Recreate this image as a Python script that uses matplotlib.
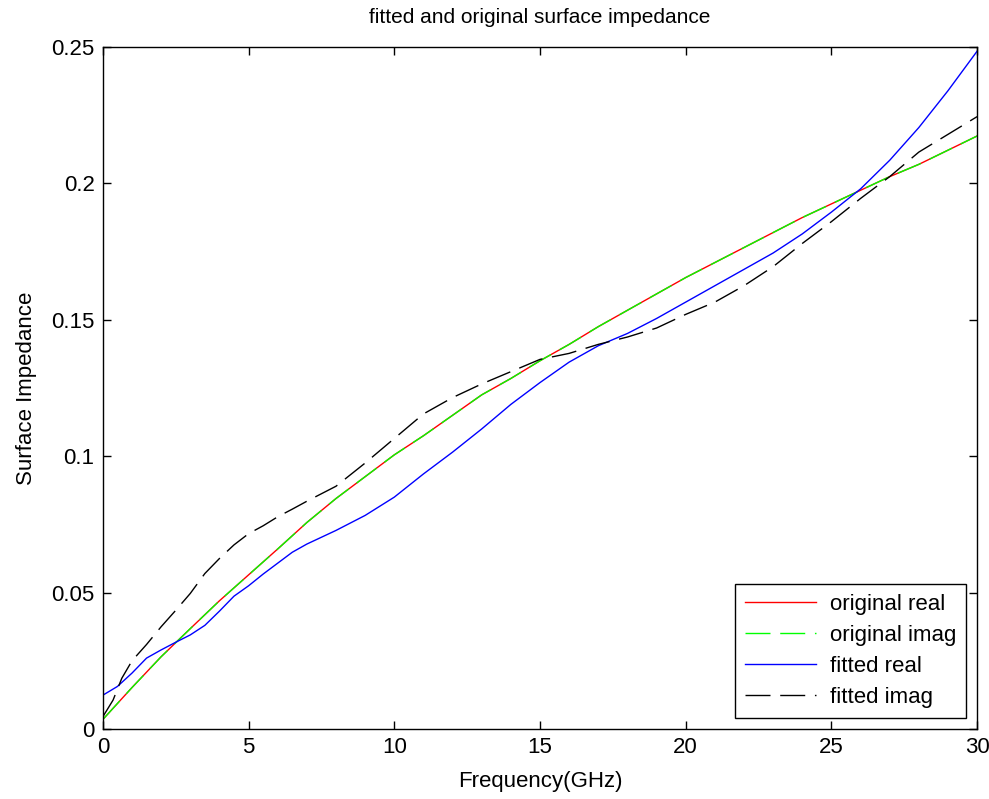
import numpy as np
import matplotlib
matplotlib.use('Agg')
import matplotlib.pyplot as plt
import matplotlib.ticker as tck

plt.rcParams['font.family'] = ['Liberation Sans', 'DejaVu Sans']

## ---------------------- datos ---------------------- ##

f_orig = [0, 1, 2, 3, 4, 5, 6, 7, 8, 9, 10, 11, 12, 13, 14, 15,
          16, 17, 18, 19, 20, 21, 22, 23, 24, 25, 26, 27, 28, 29, 30]
z_orig = [0.0035, 0.0152, 0.0265, 0.0368, 0.047, 0.0565, 0.066, 0.0757,
          0.0845, 0.0925, 0.1005, 0.1075, 0.115, 0.1225, 0.1285, 0.135,
          0.141, 0.1475, 0.1535, 0.1595, 0.1655, 0.171, 0.1765, 0.182,
          0.1875, 0.1925, 0.1975, 0.2025, 0.207, 0.2122, 0.2174]

f_fit_re = [0, 0.5, 1, 1.5, 2, 2.5, 3, 3.5, 4, 4.5, 5, 5.5, 6, 6.5, 7, 8, 9, 10,
            11, 12, 13, 14, 15, 16, 17, 18, 19, 20, 21, 22, 23, 24, 25,
            26, 27, 28, 29, 30]
z_fit_re = [0.0124, 0.0156, 0.0205, 0.026, 0.029, 0.0318, 0.0345, 0.038,
            0.0432, 0.0487, 0.0525, 0.0568, 0.0608, 0.0648, 0.0678, 0.0728, 0.0783,
            0.085, 0.0935, 0.1015, 0.110, 0.119, 0.127, 0.1345, 0.1405,
            0.145, 0.1505, 0.1565, 0.1625, 0.1685, 0.1745, 0.1815, 0.1895,
            0.198, 0.2085, 0.2205, 0.234, 0.2485]

f_fit_im = [0, 0.35, 0.65, 1, 1.5, 2, 2.5, 3, 3.5, 4, 4.5, 5, 5.5, 6, 6.5,
            7, 8, 9, 10, 11, 12, 13, 14, 15, 16, 17, 18, 19, 20, 21, 22,
            23, 24, 25, 26, 27, 28, 29, 30]
z_fit_im = [0.0045, 0.0106, 0.0186, 0.025, 0.031, 0.0375, 0.0435, 0.0497,
            0.057, 0.0625, 0.0675, 0.0716, 0.0745, 0.0778, 0.0806, 0.0835,
            0.089, 0.0975, 0.1065, 0.1155, 0.1215, 0.1265, 0.131, 0.1355,
            0.1377, 0.141, 0.1437, 0.147, 0.152, 0.1565, 0.1625, 0.1695,
            0.178, 0.186, 0.1945, 0.2025, 0.2115, 0.218, 0.2245]

## ---------------------------- grafica ---------------------------------- ##

fig = plt.figure(figsize=[9.89, 7.99], dpi=100)
ax = fig.add_axes([0.104, 0.0876, 0.884, 0.8535])

ax.plot(f_orig, z_orig, color='#ff0000', lw=1.0, label='original real')
ax.plot(f_orig, z_orig, color='#00ff00', lw=1.0, dashes=(18, 7), label='original imag')
ax.plot(f_fit_re, z_fit_re, color='#0000ff', lw=1.0, label='fitted real')
ax.plot(f_fit_im, z_fit_im, color='k', lw=1.0, dashes=(18, 7), label='fitted imag')

ax.set_xlim(0, 30)
ax.set_ylim(0, 0.25)
ax.xaxis.set_major_locator(tck.MultipleLocator(5))
ax.yaxis.set_major_locator(tck.MultipleLocator(0.05))
ax.yaxis.set_major_formatter(tck.FuncFormatter(lambda v, p: '%g' % round(v, 3)))
ax.tick_params(direction='in', length=6, width=1, top=True, right=True,
               labelsize=16, pad=6)
for s in ax.spines.values():
    s.set_linewidth(1.0)

ax.set_title('fitted and original surface impedance', fontsize=15, pad=17)
ax.set_xlabel('Frequency(GHz)', fontsize=16, labelpad=9)
ax.set_ylabel('Surface Impedance', fontsize=16, labelpad=10)

leg = ax.legend(loc='lower right', fontsize=16, handlelength=3.2,
                handletextpad=0.6, fancybox=False, framealpha=1, edgecolor='k',
                borderaxespad=0.5, labelspacing=0.45, borderpad=0.45)
leg.get_frame().set_linewidth(1.0)

plt.savefig('out.png', dpi=100)
